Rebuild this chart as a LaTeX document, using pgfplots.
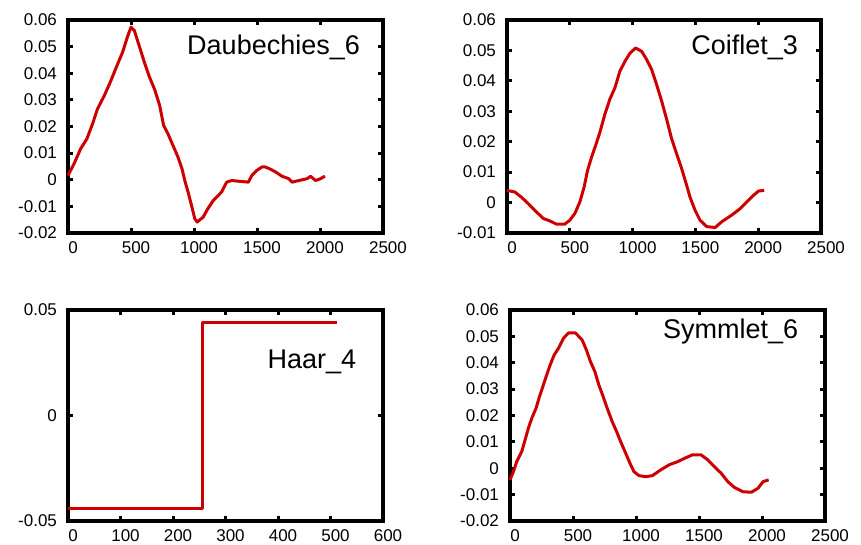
\documentclass[border=0pt]{standalone}
\usepackage{fontspec}
\setmainfont{Liberation Sans}
\usepackage{pgfplots}
\pgfplotsset{compat=1.18}
\definecolor{gpred}{RGB}{204,0,0}

\pgfplotsset{
  gp/.style={
    scale only axis, width=157.5pt, height=106.5pt,
    anchor=south west,
    axis line style={line width=1.8pt},
    tick style={line width=1.5pt, black},
    major tick length=2.6pt,
    tick align=inside,
    xtick pos=both, ytick pos=both,
    /pgf/number format/assume math mode=true,
    tick label style={font=\fontsize{8.5}{10}\selectfont},
    xticklabel style={xshift=2.5pt, yshift=-1pt},
    yticklabel style={xshift=-2pt},
    scaled ticks=false,
    clip=false,
  },
  wave/.style={gpred, line width=1.5pt, sharp plot, mark=none, line join=round},
}
\newcommand{\ttl}{\fontsize{13.5}{15}\selectfont}

\begin{document}
\begin{tikzpicture}
\useasboundingbox (0,0) rectangle (430.5pt,272.5pt);

% Daubechies_6
\begin{axis}[gp, at={(34pt,156pt)},
  xmin=0, xmax=2500, ymin=-0.02, ymax=0.06,
  xtick={0,500,1000,1500,2000,2500}, xticklabels={0,500,1000,1500,2000,2500},
  ytick={-0.02,-0.01,0,0.01,0.02,0.03,0.04,0.05,0.06},
  yticklabels={-0.02,-0.01,0,0.01,0.02,0.03,0.04,0.05,0.06}]
\addplot[wave] coordinates {
 (0,0.0016) (48,0.006) (100,0.0116) (150,0.0154) (195,0.021) (234,0.0266)
 (288,0.0316) (335,0.0366) (389,0.0429) (434,0.048) (474,0.054) (500,0.0573)
 (527,0.056) (567,0.050) (607,0.044) (647,0.0385) (687,0.034) (727,0.028)
 (759,0.0204) (793,0.0173) (833,0.0129) (873,0.0085) (905,0.0041) (927,-0.0003)
 (953,-0.0046) (980,-0.0096) (1006,-0.0146) (1025,-0.0159) (1073,-0.014)
 (1108,-0.011) (1153,-0.0078) (1219,-0.0046) (1259,-0.0009) (1299,-0.0003)
 (1432,-0.0009) (1459,0.0016) (1499,0.0035) (1539,0.0048) (1566,0.0048)
 (1605,0.004) (1645,0.003) (1699,0.0013) (1752,0.0004) (1778,-0.0009)
 (1832,-0.0003) (1898,0.0004) (1925,0.0013) (1965,-0.0003) (2005,0.0004) (2039,0.0014)};
\node[anchor=east] at (rel axis cs:0.949,0.873) {\ttl Daubechies\_6};
\end{axis}

% Coiflet_3
\begin{axis}[gp, at={(253.5pt,156pt)}, width=157pt,
  xmin=0, xmax=2500, ymin=-0.01, ymax=0.06,
  xtick={0,500,1000,1500,2000,2500}, xticklabels={0,500,1000,1500,2000,2500},
  ytick={-0.01,0,0.01,0.02,0.03,0.04,0.05,0.06},
  yticklabels={-0.01,0,0.01,0.02,0.03,0.04,0.05,0.06}]
\addplot[wave] coordinates {
 (0,0.004) (61,0.0035) (114,0.0018) (168,-0.0003) (221,-0.0025) (287,-0.0052)
 (340,-0.006) (394,-0.0071) (460,-0.0071) (500,-0.0058) (540,-0.0036) (580,0.0002)
 (614,0.0051) (641,0.0105) (673,0.0149) (705,0.0187) (739,0.023) (779,0.029)
 (819,0.034) (859,0.0377) (899,0.0432) (939,0.0464) (979,0.0491) (1024,0.0508)
 (1072,0.0497) (1112,0.047) (1152,0.0437) (1191,0.0388) (1231,0.0334) (1271,0.0274)
 (1311,0.0209) (1351,0.016) (1391,0.0111) (1423,0.0067) (1457,0.0018) (1497,-0.0025)
 (1537,-0.0058) (1590,-0.0079) (1657,-0.0082) (1710,-0.0063) (1790,-0.0041)
 (1856,-0.002) (1910,0.0002) (1963,0.0024) (2003,0.0038) (2048,0.004)};
\node[anchor=east] at (rel axis cs:0.949,0.873) {\ttl Coiflet\_3};
\end{axis}

% Haar_4
\begin{axis}[gp, at={(34pt,12pt)}, height=105.5pt,
  xmin=0, xmax=600, ymin=-0.05, ymax=0.05,
  xtick={0,100,200,300,400,500,600}, xticklabels={0,100,200,300,400,500,600},
  ytick={-0.05,0,0.05}, yticklabels={-0.05,0,0.05}]
\addplot[wave] coordinates {
 (0,-0.0442) (256,-0.0442) (256,0.0442) (512,0.0442)};
\node[anchor=east] at (rel axis cs:0.937,0.754) {\ttl Haar\_4};
\end{axis}

% Symmlet_6
\begin{axis}[gp, at={(255pt,12pt)}, height=105.5pt,
  xmin=0, xmax=2500, ymin=-0.02, ymax=0.06,
  xtick={0,500,1000,1500,2000,2500}, xticklabels={0,500,1000,1500,2000,2500},
  ytick={-0.02,-0.01,0,0.01,0.02,0.03,0.04,0.05,0.06},
  yticklabels={-0.02,-0.01,0,0.01,0.02,0.03,0.04,0.05,0.06}]
\addplot[wave] coordinates {
 (0,-0.0044) (27,-0.0013) (53,0.0025) (93,0.0063) (120,0.0108) (146,0.0152)
 (173,0.019) (207,0.0228) (234,0.0272) (261,0.031) (287,0.0348) (319,0.0392)
 (351,0.043) (386,0.0456) (426,0.0494) (465,0.0513) (519,0.0513) (572,0.0487)
 (606,0.0449) (638,0.0405) (673,0.0367) (705,0.0316) (739,0.0272) (771,0.0228)
 (811,0.0177) (846,0.0139) (878,0.0101) (918,0.0057) (952,0.0019) (984,-0.0013)
 (1024,-0.0028) (1077,-0.0032) (1130,-0.0028) (1197,-0.0006) (1263,0.0013)
 (1330,0.0025) (1396,0.004) (1449,0.0051) (1516,0.0051) (1569,0.0032) (1622,0.0006)
 (1676,-0.0019) (1729,-0.0051) (1782,-0.0073) (1848,-0.0089) (1915,-0.0091)
 (1968,-0.0076) (2008,-0.0051) (2053,-0.0044)};
\node[anchor=east] at (rel axis cs:0.937,0.896) {\ttl Symmlet\_6};
\end{axis}
\end{tikzpicture}
\end{document}
